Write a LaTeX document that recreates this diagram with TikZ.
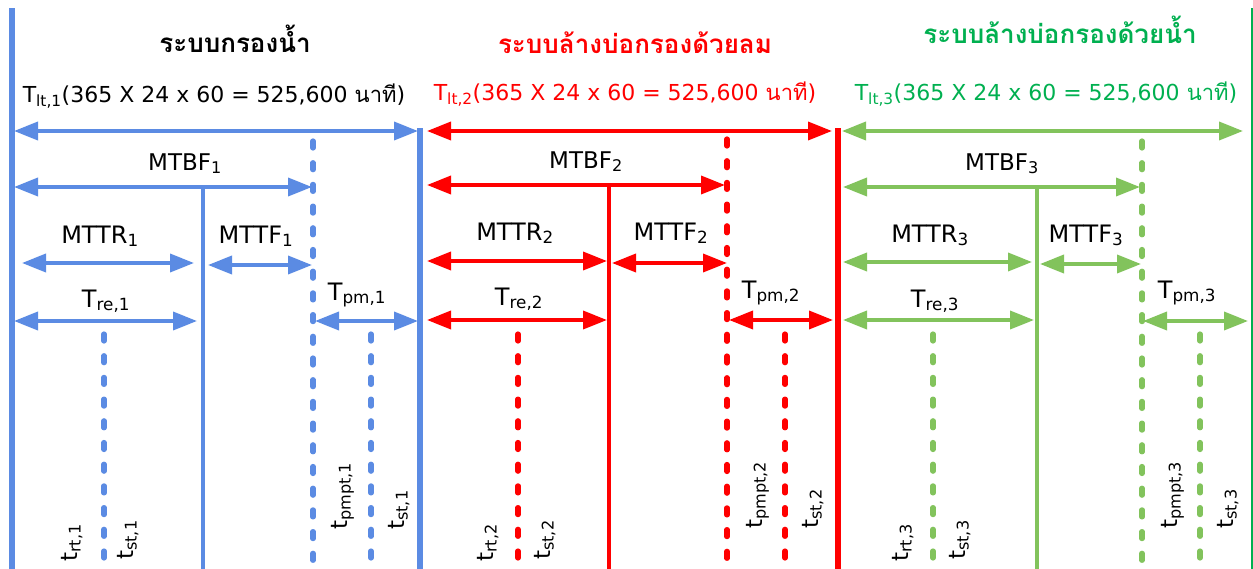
\documentclass[tikz,border=0pt]{standalone}
\usepackage{fontspec}
\setmainfont{DejaVu Sans}
\newfontfamily\thaifont[Script=Thai]{Loma}
\usetikzlibrary{arrows.meta}
\definecolor{cblue}{HTML}{5B8BE3}
\definecolor{cred}{HTML}{FF0000}
\definecolor{cgreen}{HTML}{82C35C}
\definecolor{tgreen}{HTML}{00B050}
\tikzset{
  dimline/.style={line width=3.6pt, >={Triangle[length=24pt,width=18pt]}, <->},
  bound/.style={line width=5.5pt},
  midline/.style={line width=4.8pt},
  dotv/.style={line width=5.2pt, line cap=round, dash pattern=on 7pt off 14.7pt},
  ttl/.style={font=\thaifont\bfseries\fontsize{26}{30}\selectfont, inner sep=0pt, anchor=base},
  ltl/.style={font=\fontsize{22}{26}\selectfont, inner sep=0pt, anchor=base},
  mlab/.style={font=\fontsize{23}{27}\selectfont, inner sep=0pt, anchor=base},
  rlab/.style={font=\fontsize{24}{28}\selectfont, inner sep=0pt, anchor=base},
  vlab/.style={font=\fontsize{23}{27}\selectfont, inner sep=0pt, anchor=base west, rotate=90}
}
\begin{document}
\begin{tikzpicture}[x=1pt,y=-1pt]
\fill[white] (0,0) rectangle (1253,568);
\useasboundingbox (0,0) rectangle (1253,568);

% ---------- Panel 1 (blue) ----------
\coordinate (b0t) at (12,8);      \coordinate (b0b) at (12,572);
\coordinate (b1t) at (420,128);   \coordinate (b1b) at (420,572);
\coordinate (lt1a) at (14,131);   \coordinate (lt1b) at (418,131);
\coordinate (d1t) at (313,141);   \coordinate (d1b) at (313,572);
\coordinate (bf1a) at (14,187);   \coordinate (bf1b) at (312,187);
\coordinate (s1t) at (203,187);   \coordinate (s1b) at (203,572);
\coordinate (tr1a) at (22,263);   \coordinate (tr1b) at (194,263);
\coordinate (tf1a) at (208,265);  \coordinate (tf1b) at (312,265);
\coordinate (re1a) at (14,321);   \coordinate (re1b) at (197,321);
\coordinate (pm1a) at (315,321);  \coordinate (pm1b) at (418,321);
\coordinate (a1t) at (104,334);   \coordinate (a1b) at (104,572);
\coordinate (c1t) at (371,334);   \coordinate (c1b) at (371,572);

\draw[bound,cblue] (b0t) -- (b0b);
\draw[bound,cblue] (b1t) -- (b1b);
\draw[midline,cblue] (s1t) -- (s1b);
\draw[dotv,cblue] (d1t) -- (d1b);
\draw[dotv,cblue] (a1t) -- (a1b);
\draw[dotv,cblue] (c1t) -- (c1b);
\draw[dimline,cblue] (lt1a) -- (lt1b);
\draw[dimline,cblue] (bf1a) -- (bf1b);
\draw[dimline,cblue] (tr1a) -- (tr1b);
\draw[dimline,cblue] (tf1a) -- (tf1b);
\draw[dimline,cblue] (re1a) -- (re1b);
\draw[dimline,cblue] (pm1a) -- (pm1b);

\node[ttl,black] (title1) at (235,52) {ระบบกรองน้ำ};
\node[ltl,black] (tlt1) at (214,102) {T\textsubscript{lt,1}(365 X 24 x 60 = 525,600 {\thaifont นาที})};
\node[mlab] (mtbf1) at (185,170) {MTBF\textsubscript{1}};
\node[rlab] (mttr1) at (100,243) {MTTR\textsubscript{1}};
\node[rlab] (mttf1) at (256,243) {MTTF\textsubscript{1}};
\node[rlab] (tre1) at (106,307) {T\textsubscript{re,1}};
\node[rlab] (tpm1) at (357,300) {T\textsubscript{pm,1}};
\node[vlab] (trt1) at (77,562) {t\textsubscript{rt,1}};
\node[vlab] (tst1) at (133,560) {t\textsubscript{st,1}};
\node[vlab] (tpp1) at (347,530) {t\textsubscript{pmpt,1}};
\node[vlab] (tsb1) at (404,530) {t\textsubscript{st,1}};

% ---------- Panel 2 (red) ----------
\coordinate (b2t) at (838,128);   \coordinate (b2b) at (838,572);
\coordinate (lt2a) at (427,131);  \coordinate (lt2b) at (832,131);
\coordinate (d2t) at (727,139);   \coordinate (d2b) at (727,572);
\coordinate (bf2a) at (427,185);  \coordinate (bf2b) at (725,185);
\coordinate (s2t) at (609,185);   \coordinate (s2b) at (609,572);
\coordinate (tr2a) at (427,261);  \coordinate (tr2b) at (607,261);
\coordinate (tf2a) at (612,263);  \coordinate (tf2b) at (727,263);
\coordinate (re2a) at (427,320);  \coordinate (re2b) at (607,320);
\coordinate (pm2a) at (729,320);  \coordinate (pm2b) at (833,320);
\coordinate (a2t) at (518,334);   \coordinate (a2b) at (518,572);
\coordinate (c2t) at (785,334);   \coordinate (c2b) at (785,572);

\draw[line width=6pt,cred] (b2t) -- (b2b);
\draw[midline,cred] (s2t) -- (s2b);
\draw[dotv,cred] (d2t) -- (d2b);
\draw[dotv,cred] (a2t) -- (a2b);
\draw[dotv,cred] (c2t) -- (c2b);
\draw[dimline,cred] (lt2a) -- (lt2b);
\draw[dimline,cred] (bf2a) -- (bf2b);
\draw[dimline,cred] (tr2a) -- (tr2b);
\draw[dimline,cred] (tf2a) -- (tf2b);
\draw[dimline,cred] (re2a) -- (re2b);
\draw[dimline,cred] (pm2a) -- (pm2b);

\node[ttl,cred] (title2) at (635,53) {ระบบล้างบ่อกรองด้วยลม};
\node[ltl,cred] (tlt2) at (625,100) {T\textsubscript{lt,2}(365 X 24 x 60 = 525,600 {\thaifont นาที})};
\node[mlab] (mtbf2) at (586,168) {MTBF\textsubscript{2}};
\node[rlab] (mttr2) at (515,240) {MTTR\textsubscript{2}};
\node[rlab] (mttf2) at (671,240) {MTTF\textsubscript{2}};
\node[rlab] (tre2) at (519,305) {T\textsubscript{re,2}};
\node[rlab] (tpm2) at (771,298) {T\textsubscript{pm,2}};
\node[vlab] (trt2) at (493,562) {t\textsubscript{rt,2}};
\node[vlab] (tst2) at (550,560) {t\textsubscript{st,2}};
\node[vlab] (tpp2) at (762,529) {t\textsubscript{pmpt,2}};
\node[vlab] (tsb2) at (818,529) {t\textsubscript{st,2}};

% ---------- Panel 3 (green) ----------
\coordinate (b3t) at (1252,8);    \coordinate (b3b) at (1252,572);
\coordinate (lt3a) at (842,131);  \coordinate (lt3b) at (1243,131);
\coordinate (d3t) at (1142,141);  \coordinate (d3b) at (1142,572);
\coordinate (bf3a) at (843,187);  \coordinate (bf3b) at (1140,187);
\coordinate (s3t) at (1037,187);  \coordinate (s3b) at (1037,572);
\coordinate (tr3a) at (843,262);  \coordinate (tr3b) at (1032,262);
\coordinate (tf3a) at (1040,264); \coordinate (tf3b) at (1141,264);
\coordinate (re3a) at (843,320);  \coordinate (re3b) at (1034,320);
\coordinate (pm3a) at (1143,321); \coordinate (pm3b) at (1248,321);
\coordinate (a3t) at (933,334);   \coordinate (a3b) at (933,572);
\coordinate (c3t) at (1200,334);  \coordinate (c3b) at (1200,572);

\draw[line width=2.2pt,tgreen] (b3t) -- (b3b);
\draw[midline,cgreen] (s3t) -- (s3b);
\draw[dotv,cgreen] (d3t) -- (d3b);
\draw[dotv,cgreen] (a3t) -- (a3b);
\draw[dotv,cgreen] (c3t) -- (c3b);
\draw[dimline,cgreen] (lt3a) -- (lt3b);
\draw[dimline,cgreen] (bf3a) -- (bf3b);
\draw[dimline,cgreen] (tr3a) -- (tr3b);
\draw[dimline,cgreen] (tf3a) -- (tf3b);
\draw[dimline,cgreen] (re3a) -- (re3b);
\draw[dimline,cgreen] (pm3a) -- (pm3b);

\node[ttl,tgreen] (title3) at (1060,43) {ระบบล้างบ่อกรองด้วยน้ำ};
\node[ltl,tgreen] (tlt3) at (1046,100) {T\textsubscript{lt,3}(365 X 24 x 60 = 525,600 {\thaifont นาที})};
\node[mlab] (mtbf3) at (1002,170) {MTBF\textsubscript{3}};
\node[rlab] (mttr3) at (930,242) {MTTR\textsubscript{3}};
\node[rlab] (mttf3) at (1086,242) {MTTF\textsubscript{3}};
\node[rlab] (tre3) at (935,307) {T\textsubscript{re,3}};
\node[rlab] (tpm3) at (1187,298) {T\textsubscript{pm,3}};
\node[vlab] (trt3) at (908,562) {t\textsubscript{rt,3}};
\node[vlab] (tst3) at (965,560) {t\textsubscript{st,3}};
\node[vlab] (tpp3) at (1177,529) {t\textsubscript{pmpt,3}};
\node[vlab] (tsb3) at (1233,529) {t\textsubscript{st,3}};
\end{tikzpicture}
\end{document}
